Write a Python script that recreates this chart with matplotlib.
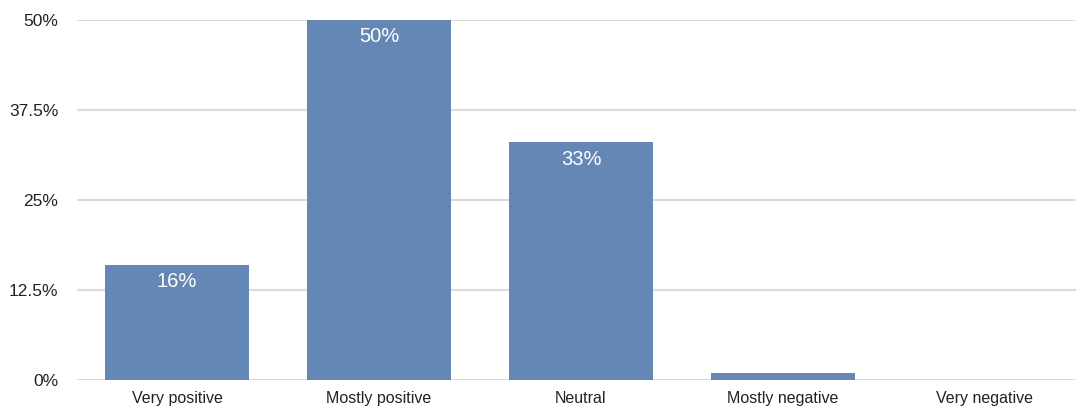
import matplotlib.pyplot as plt
import numpy as np

categories = ["Very positive", "Mostly positive", "Neutral", "Mostly negative", "Very negative"]
values = [16, 50, 33, 1, 0]
value_labels = ["16%", "50%", "33%", "", ""]
y_ticks = [0, 12.5, 25, 37.5, 50]
y_tick_labels = ["0%", "12.5%", "25%", "37.5%", "50%"]

plt.rcParams['font.family'] = ['Liberation Sans', 'DejaVu Sans']

W, H = 1076, 407
fig = plt.figure(figsize=(W / 100, H / 100), dpi=100)
ax = fig.add_axes([77 / W, 27 / H, (W - 77) / W, 360 / H])

x = np.arange(len(categories))
bars = ax.bar(x, values, width=0.713, color='#6587b5', zorder=3)

for rect, lab in zip(bars, value_labels):
    if lab:
        ax.annotate(lab, (rect.get_x() + rect.get_width() / 2, rect.get_height()),
                    xytext=(0, -12), textcoords='offset points', ha='center', va='center',
                    color='white', fontsize=14.5, zorder=4)

ax.set_xlim(-0.495, (W - 177) / 202)
ax.set_ylim(0, 50)
ax.set_yticks(y_ticks)
ax.set_yticklabels(y_tick_labels, fontsize=12.5, color='#222222')
ax.set_xticks(x)
ax.set_xticklabels(categories, fontsize=11.5, color='#222222')
ax.tick_params(axis='both', length=0)
ax.tick_params(axis='y', pad=13.5)
ax.tick_params(axis='x', pad=8)
ax.grid(axis='y', color='#dcdcdc', linewidth=1.5, zorder=0)
for s in ax.spines.values():
    s.set_visible(False)

fig.savefig('out.png', dpi=100)
